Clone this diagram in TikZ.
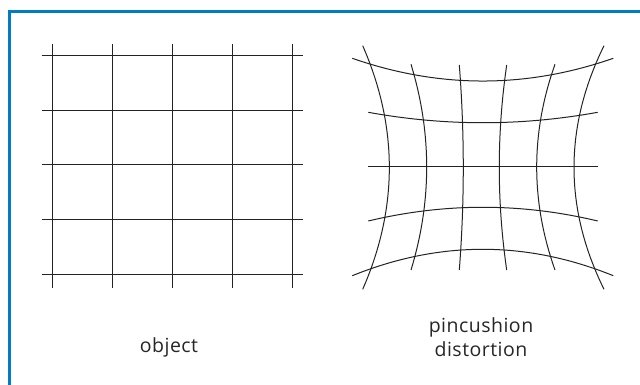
\documentclass[tikz,border=0pt]{standalone}
\usepackage{fontspec}
\setmainfont[LetterSpace=2.5]{Open Sans}
\definecolor{frameblue}{RGB}{0,124,196}
\definecolor{gridink}{RGB}{35,35,35}
\begin{document}
\begin{tikzpicture}[x=1pt,y=-1pt,
  frameline/.style={draw=frameblue,line width=3pt},
  gridline/.style={draw=gridink,line width=1pt},
  caption/.style={font=\fontsize{19.5}{24}\selectfont,text=black!85,inner sep=0pt,anchor=base}]
\useasboundingbox (0,0) rectangle (640,385);
% frame (top and left edges)
\draw[frameline] (9.5,385) -- (9.5,11.5) -- (640,11.5);
% object grid
\foreach \x in {52.3,112.3,172.3,232.3,292.5}
  \draw[gridline] (\x,44) -- (\x,288);
\foreach \y in {56,110.5,165,219.5,274}
  \draw[gridline] (41.7,\y) -- (303.3,\y);
% pincushion grid: horizontal curves
\draw[gridline] (352.3,58.3) .. controls (439.3,88.6) and (526.3,88.6) .. (613.3,58.3);
\draw[gridline] (368.3,112.3) .. controls (444.8,126.2) and (521.2,126.2) .. (597.7,112.3);
\draw[gridline] (368.3,166.7) -- (597.7,166.7);
\draw[gridline] (368.3,221) .. controls (444.8,202.7) and (521.2,202.7) .. (597.7,221);
\draw[gridline] (352.3,275.7) .. controls (439.3,240.5) and (526.3,240.5) .. (613.3,275.7);
% pincushion grid: vertical curves
\draw[gridline] (362.7,45.7) .. controls (398.2,126.9) and (398.2,208.1) .. (362.7,289.3);
\draw[gridline] (411,64.3) .. controls (431.9,132.9) and (431.9,201.4) .. (411,270);
\draw[gridline] (459.3,65) .. controls (464.6,133.3) and (464.6,201.7) .. (459.3,270);
\draw[gridline] (506.7,65) .. controls (496.8,133.3) and (496.8,201.7) .. (506.7,270);
\draw[gridline] (555,64.3) .. controls (530.6,132.9) and (530.6,201.4) .. (555,270);
\draw[gridline] (604,45.7) .. controls (564,126.9) and (564,208.1) .. (604,289.3);
% captions
\node[caption] (obj) at (169,352) {object};
\node[caption] (pin) at (481,332) {pincushion};
\node[caption] (dis) at (481,356) {distortion};
\end{tikzpicture}
\end{document}
